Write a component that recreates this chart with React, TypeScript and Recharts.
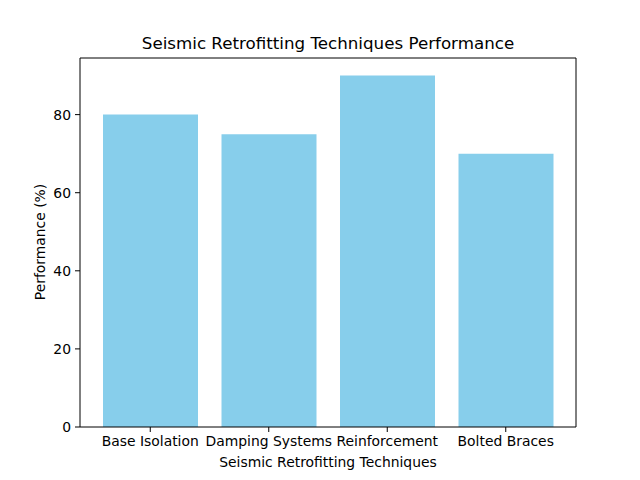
import React from 'react';
import { BarChart, Bar, XAxis, YAxis } from 'recharts';

const techniques = ['Base Isolation', 'Damping Systems', 'Reinforcement', 'Bolted Braces'];
const performance = [80, 75, 90, 70];
const yTicks = [0, 20, 40, 60, 80];

const data = techniques.map((name, i) => ({ name, value: performance[i] }));

const font = '"DejaVu Sans", sans-serif';

export default function App() {
  return (
    <div style={{ position: 'absolute', left: 0, top: 0, width: 640, height: 480, background: '#fff' }}>
      <BarChart
        width={640}
        height={480}
        data={data}
        margin={{ top: 57, right: 63, left: 20, bottom: 13 }}
        style={{ fontFamily: font }}
      >
        <text x={328} y={49} textAnchor="middle" fontSize={16.7} fill="#000" fontFamily={font}>
          Seismic Retrofitting Techniques Performance
        </text>
        <text x={328} y={467} textAnchor="middle" fontSize={13.9} fill="#000" fontFamily={font}>
          Seismic Retrofitting Techniques
        </text>
        <text
          x={45}
          y={242}
          textAnchor="middle"
          fontSize={13.9}
          fill="#000"
          fontFamily={font}
          transform="rotate(-90 45 242)"
        >
          Performance (%)
        </text>
        <XAxis
          dataKey="name"
          height={40}
          padding={{ left: 11, right: 11 }}
          tick={{ fill: '#000', fontSize: 13.9 }}
          tickLine={{ stroke: '#000' }}
          axisLine={{ stroke: '#000' }}
          tickSize={5}
          tickMargin={4}
          interval={0}
        />
        <XAxis
          xAxisId="top"
          dataKey="name"
          orientation="top"
          height={1}
          tick={false}
          tickLine={false}
          axisLine={{ stroke: '#000' }}
        />
        <YAxis
          width={60}
          domain={[0, 94.5]}
          ticks={yTicks}
          tick={{ fill: '#000', fontSize: 13.9 }}
          tickLine={{ stroke: '#000' }}
          axisLine={{ stroke: '#000' }}
          tickSize={5}
          tickMargin={4}
        />
        <YAxis
          yAxisId="right"
          orientation="right"
          domain={[0, 94.5]}
          width={1}
          tick={false}
          tickLine={false}
          axisLine={{ stroke: '#000' }}
        />
        <Bar dataKey="value" fill="#87CEEB" barSize={95} isAnimationActive={false} />
      </BarChart>
    </div>
  );
}
